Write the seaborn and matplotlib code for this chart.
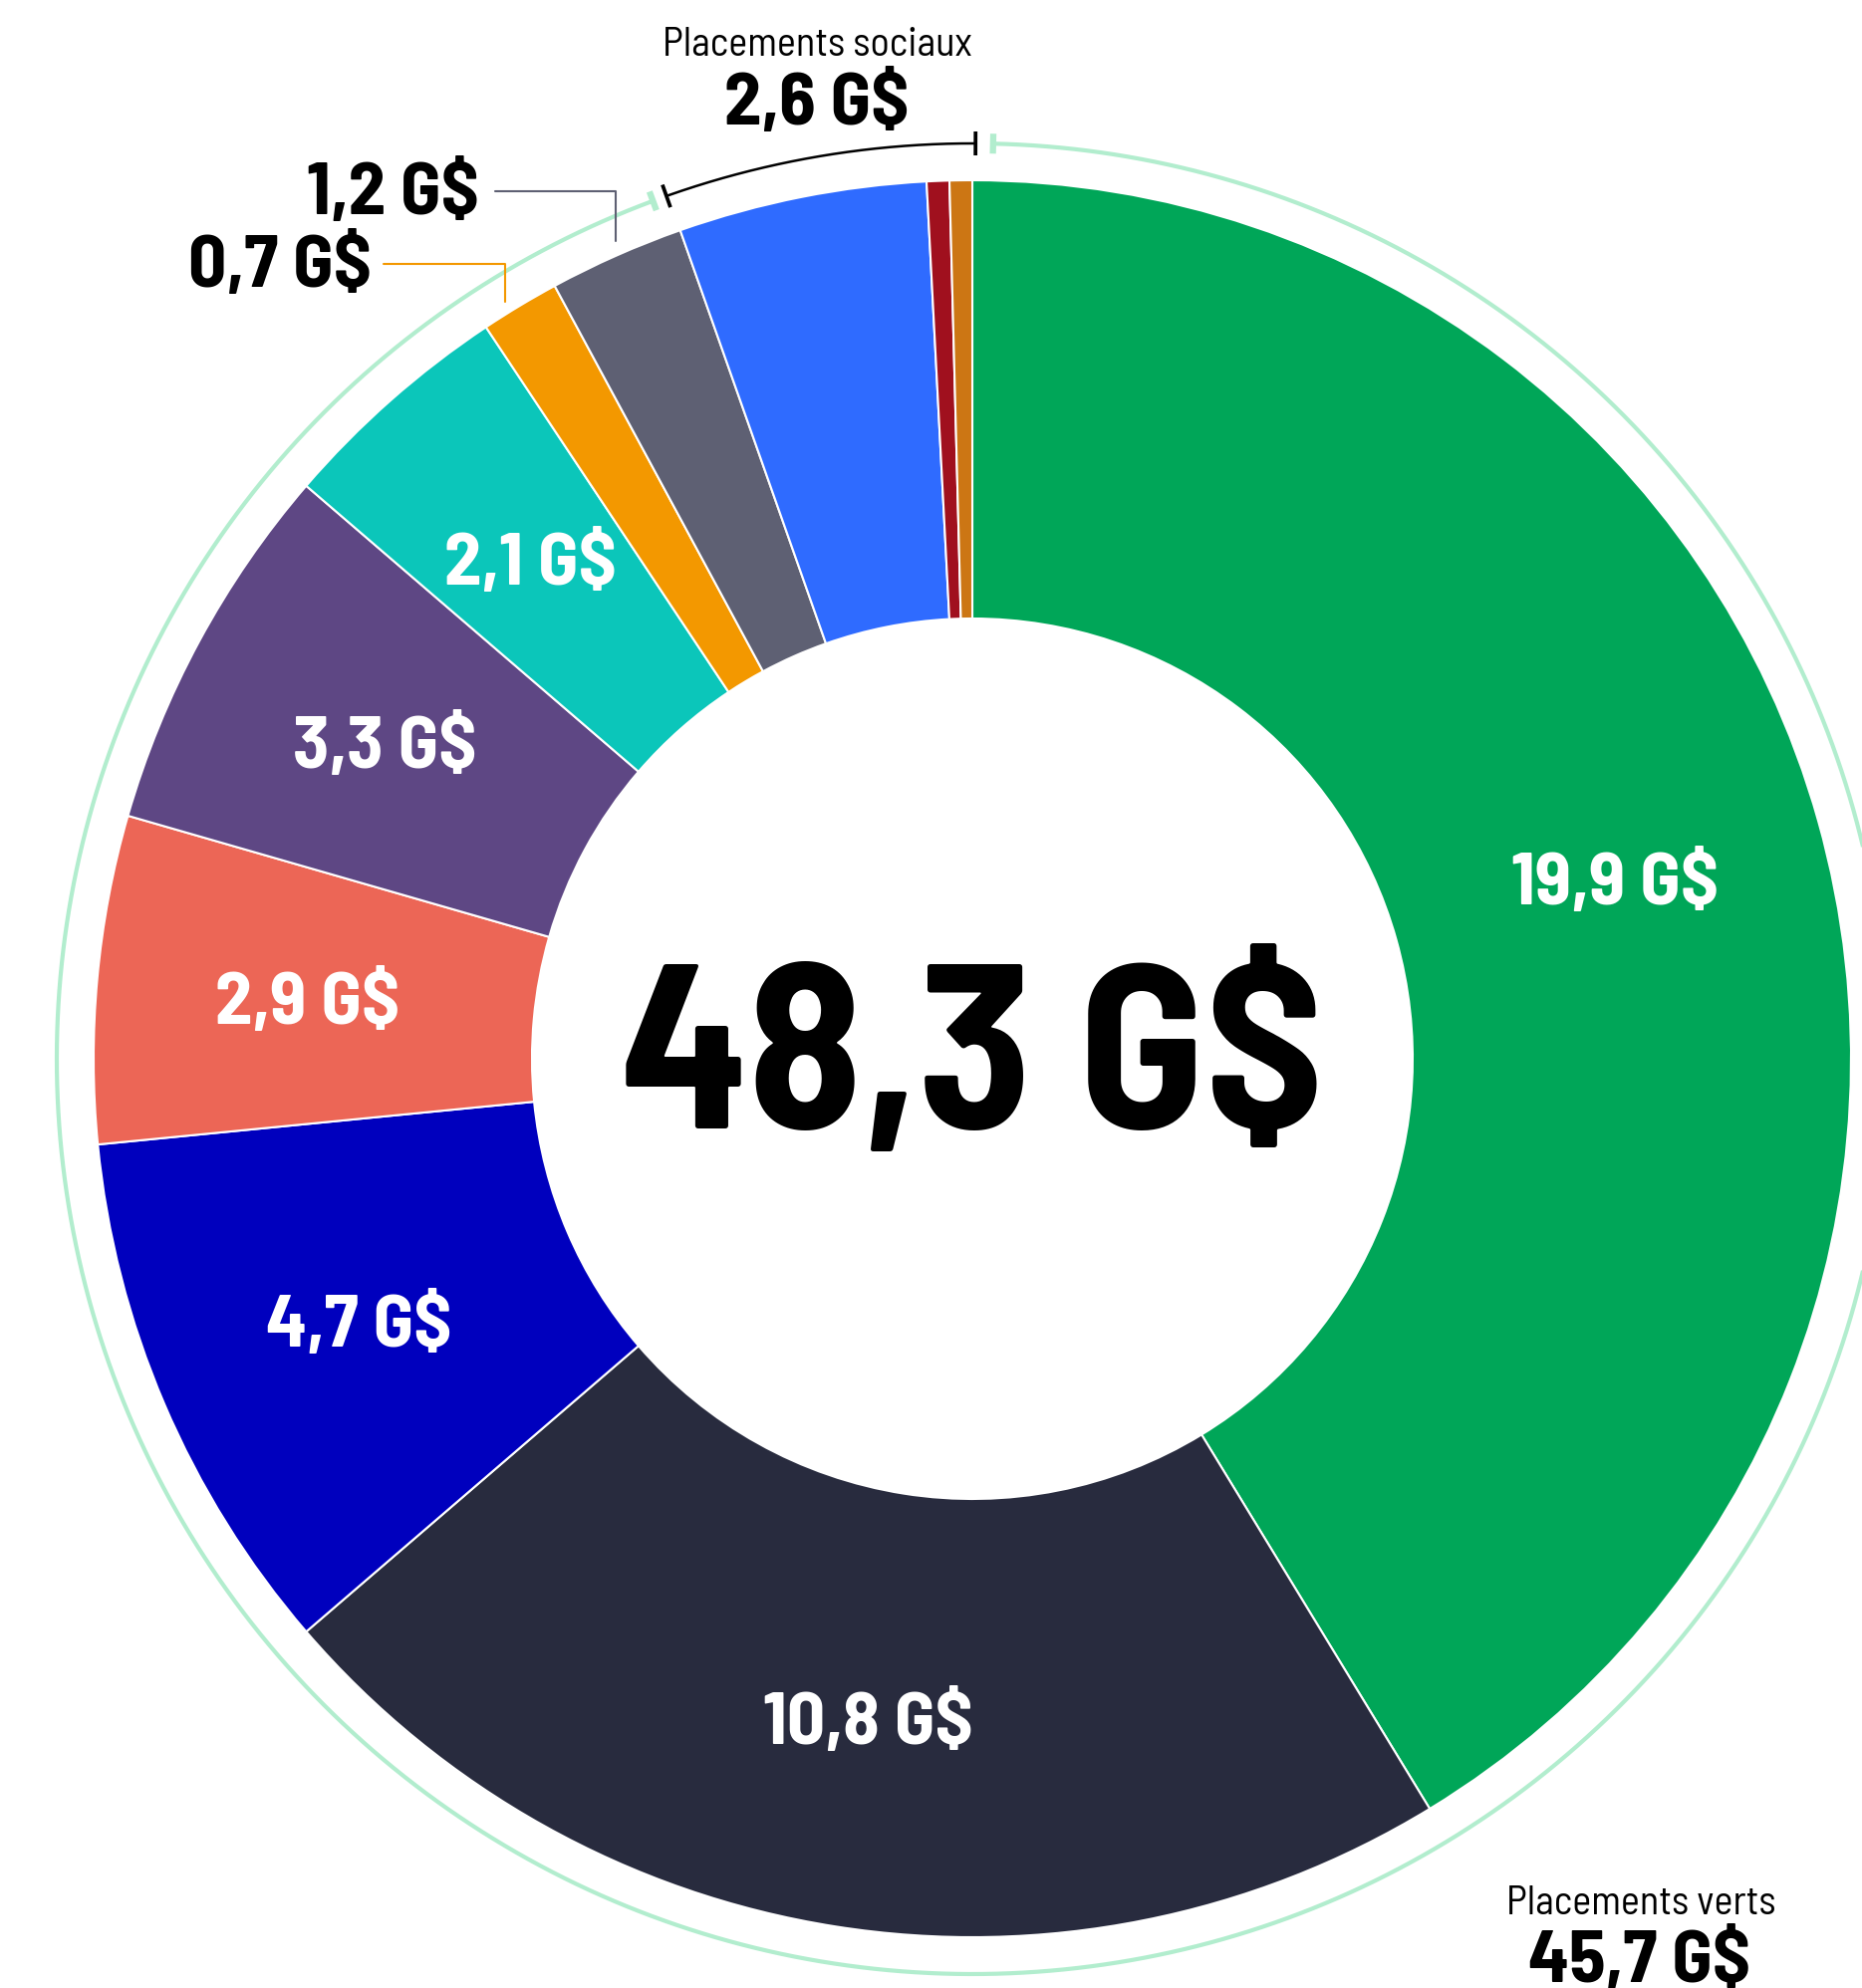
import numpy as np
import matplotlib
matplotlib.use("Agg")
import matplotlib.pyplot as plt
from matplotlib import font_manager
import seaborn as sns

# données (G$)
segments = ["Vert 1", "Vert 2", "Vert 3", "Vert 4", "Vert 5", "Vert 6",
            "Vert 7", "Vert 8", "Social 1", "Social 2", "Social 3"]
values = [19.9, 10.8, 4.7, 2.9, 3.3, 2.1, 0.7, 1.2, 2.2, 0.2, 0.2]
colors = ["#00A658", "#282B3E", "#0000BE", "#EC6656", "#5E4784", "#0BC6BA",
          "#F39800", "#5E6073", "#2F6BFF", "#A0101E", "#CC7614"]
show_inside = [True, True, True, True, True, True, False, False, False, False, False]
total_label = "48,3 G$"
green_total = "45,7 G$"
social_total = "2,6 G$"
n_green = 8

def fmt(v):
    return f"{v:.1f}".replace(".", ",") + " G$"

sns.set_style("white")

# police étroite si disponible, sinon Liberation Sans un peu plus petite
installed = {f.name for f in font_manager.fontManager.ttflist}
if "Barlow Semi Condensed" in installed:
    fam, k = "Barlow Semi Condensed", 1.0
else:
    fam, k = "Liberation Sans", 0.86
plt.rcParams["font.family"] = [fam, "DejaVu Sans"]
plt.rcParams["text.color"] = "black"

W, H = 1869, 1996
fig = plt.figure(figsize=(W / 100, H / 100), dpi=100)
ax = fig.add_axes([0, 0, 1, 1])

cx, cy = 976, 933
R_out, R_in, R_ring = 882, 442, 919

wedges, _ = ax.pie(values, colors=colors, startangle=90, counterclock=False,
                   radius=R_out, center=(cx, cy),
                   wedgeprops=dict(width=R_out - R_in, edgecolor="white", linewidth=1.5))

ax.set_xlim(0, W)
ax.set_ylim(0, H)
ax.set_aspect("equal")
ax.axis("off")

tot = sum(values)
cum = np.concatenate([[0], np.cumsum(values)])
bounds = 90 - 360 * cum / tot  # angles standard (deg)

# étiquettes internes
r_lab = 670
for i, v in enumerate(values):
    if not show_inside[i]:
        continue
    m = np.deg2rad((bounds[i] + bounds[i + 1]) / 2)
    ax.text(cx + r_lab * np.cos(m), cy + r_lab * np.sin(m), fmt(v),
            color="white", fontsize=54 * k, fontweight="bold", ha="center",
            va="center_baseline")

# total au centre
ax.text(cx, 863, total_label, fontsize=169 * k, fontweight="bold", ha="center",
        va="baseline")

# arcs extérieurs
def arc(a1, a2, color, lw, tick=24):
    t = np.deg2rad(np.linspace(a1, a2, 400))
    ax.plot(cx + R_ring * np.cos(t), cy + R_ring * np.sin(t), color=color, lw=lw,
            solid_capstyle="butt")
    for a in (a1, a2):
        ar = np.deg2rad(a)
        rr = np.array([R_ring - tick / 2, R_ring + tick / 2])
        ax.plot(cx + rr * np.cos(ar), cy + rr * np.sin(ar), color=color, lw=lw * 1.5,
                solid_capstyle="butt")

b_soc = bounds[n_green]
arc(90 - 1.3, b_soc + 1.0, "#B2EDCE", 3.0, tick=20)        # placements verts
arc(89.8, b_soc + 360 + 0.1, "black", 1.8, tick=24)        # placements sociaux

# textes de groupes
ax.text(820, 1940, "Placements sociaux", fontsize=29 * k, ha="center", va="baseline")
ax.text(820, 1871, social_total, fontsize=54 * k, fontweight="bold", ha="center", va="baseline")
ax.text(1647, 74, "Placements verts", fontsize=29 * k, ha="center", va="baseline")
ax.text(1646, 6, green_total, fontsize=54 * k, fontweight="bold", ha="center", va="baseline")

# petites valeurs avec renvois
ax.text(481, 1781, fmt(values[7]), fontsize=54 * k, fontweight="bold", ha="right", va="baseline")
ax.plot([497, 618, 618], [1804, 1804, 1754], color=colors[7], lw=1.5)
ax.text(373, 1708, fmt(values[6]), fontsize=54 * k, fontweight="bold", ha="right", va="baseline")
ax.plot([385, 507, 507], [1731, 1731, 1693], color=colors[6], lw=1.5)

fig.savefig("out.png", dpi=100)
